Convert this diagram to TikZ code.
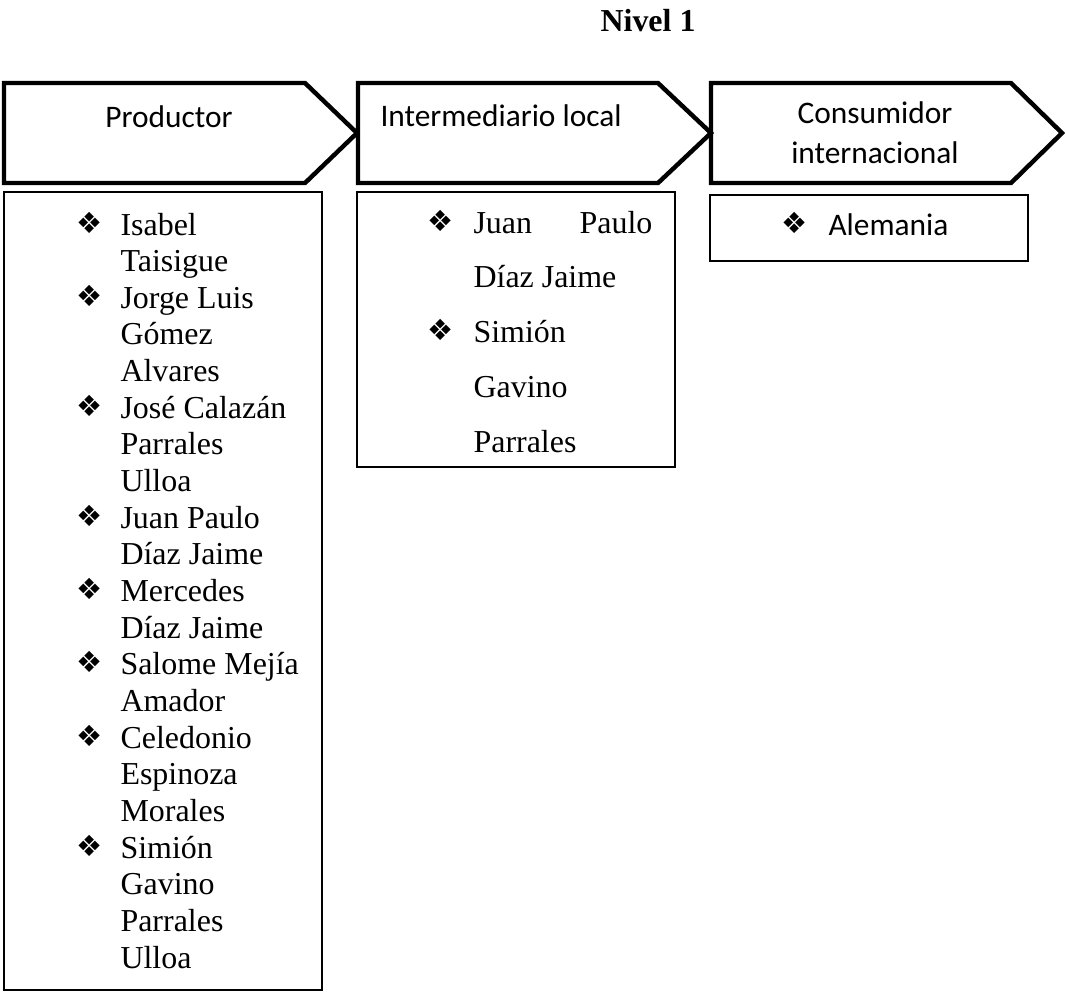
\documentclass[tikz,border=0pt]{standalone}
\usepackage{fontspec}
\setmainfont{Liberation Serif}
\newfontfamily\calibri{Carlito}
\newfontfamily\simbolos{DejaVu Sans}
\newcommand{\vineta}{{\simbolos\fontsize{10.5}{11}\selectfont ❖}}
\begin{document}
\begin{tikzpicture}[x=0.36pt,y=-0.36pt,
  flecha/.style={line width=1.6pt, line join=miter},
  caja/.style={draw, line width=0.5pt},
  nombre/.style={anchor=base west, inner sep=0pt, font=\fontsize{11.5}{13}\selectfont},
  etiqueta/.style={inner sep=0pt, font=\calibri\fontsize{11.3}{13}\selectfont}]
\useasboundingbox (0,0) rectangle (1066,992);
\node[nombre, font=\bfseries\fontsize{11.5}{13}\selectfont] (titulo) at (600,31) {Nivel 1};
% flechas de la cadena
\draw[flecha] (4,83) -- (305,83) -- (357,133) -- (305,183) -- (4,183) -- cycle;
\draw[flecha] (358,83) -- (658,83) -- (711,133) -- (658,183) -- (358,183) -- cycle;
\draw[flecha] (711,83) -- (1011,83) -- (1062,133) -- (1011,183) -- (711,183) -- cycle;
\node[etiqueta, anchor=base] (prod) at (169,127) {Productor};
\node[etiqueta, anchor=base west] (inter) at (380,126) {Intermediario local};
\node[etiqueta, anchor=base] (cons) at (875,123) {Consumidor};
\node[etiqueta, anchor=base] (intl) at (875,163) {internacional};
% cajas
\draw[caja] (4,192) rectangle (322,990);
\draw[caja] (357,192) rectangle (675,467);
\draw[caja] (710,195) rectangle (1028,261);
% productores
\foreach \t [count=\i from 0] in {Isabel, Taisigue, Jorge Luis, Gómez, Alvares,
  José Calazán, Parrales, Ulloa, Juan Paulo, Díaz Jaime, Mercedes, Díaz Jaime,
  Salome Mejía, Amador, Celedonio, Espinoza, Morales, Simión, Gavino, Parrales, Ulloa}
  \node[nombre] (p\i) at (120,{235+36.65*\i}) {\t};
\foreach \i in {0,2,5,8,10,12,14,17}
  \node[nombre] (bp\i) at (76,{233+36.65*\i}) {\vineta};
% intermediarios
\node[nombre] (i0) at (473,233) {Juan};
\node[nombre, anchor=base east] (i0b) at (653,233) {Paulo};
\foreach \t [count=\i from 1] in {Díaz Jaime, Simión, Gavino, Parrales}
  \node[nombre] (i\i) at (473,{233+54.75*\i}) {\t};
\node[nombre] (bi0) at (427,231) {\vineta};
\node[nombre] (bi2) at (427,{231+54.75*2}) {\vineta};
% consumidor
\node[nombre] (bc) at (781,233) {\vineta};
\node[etiqueta, anchor=base west] (alem) at (828,235) {Alemania};
\end{tikzpicture}
\end{document}
